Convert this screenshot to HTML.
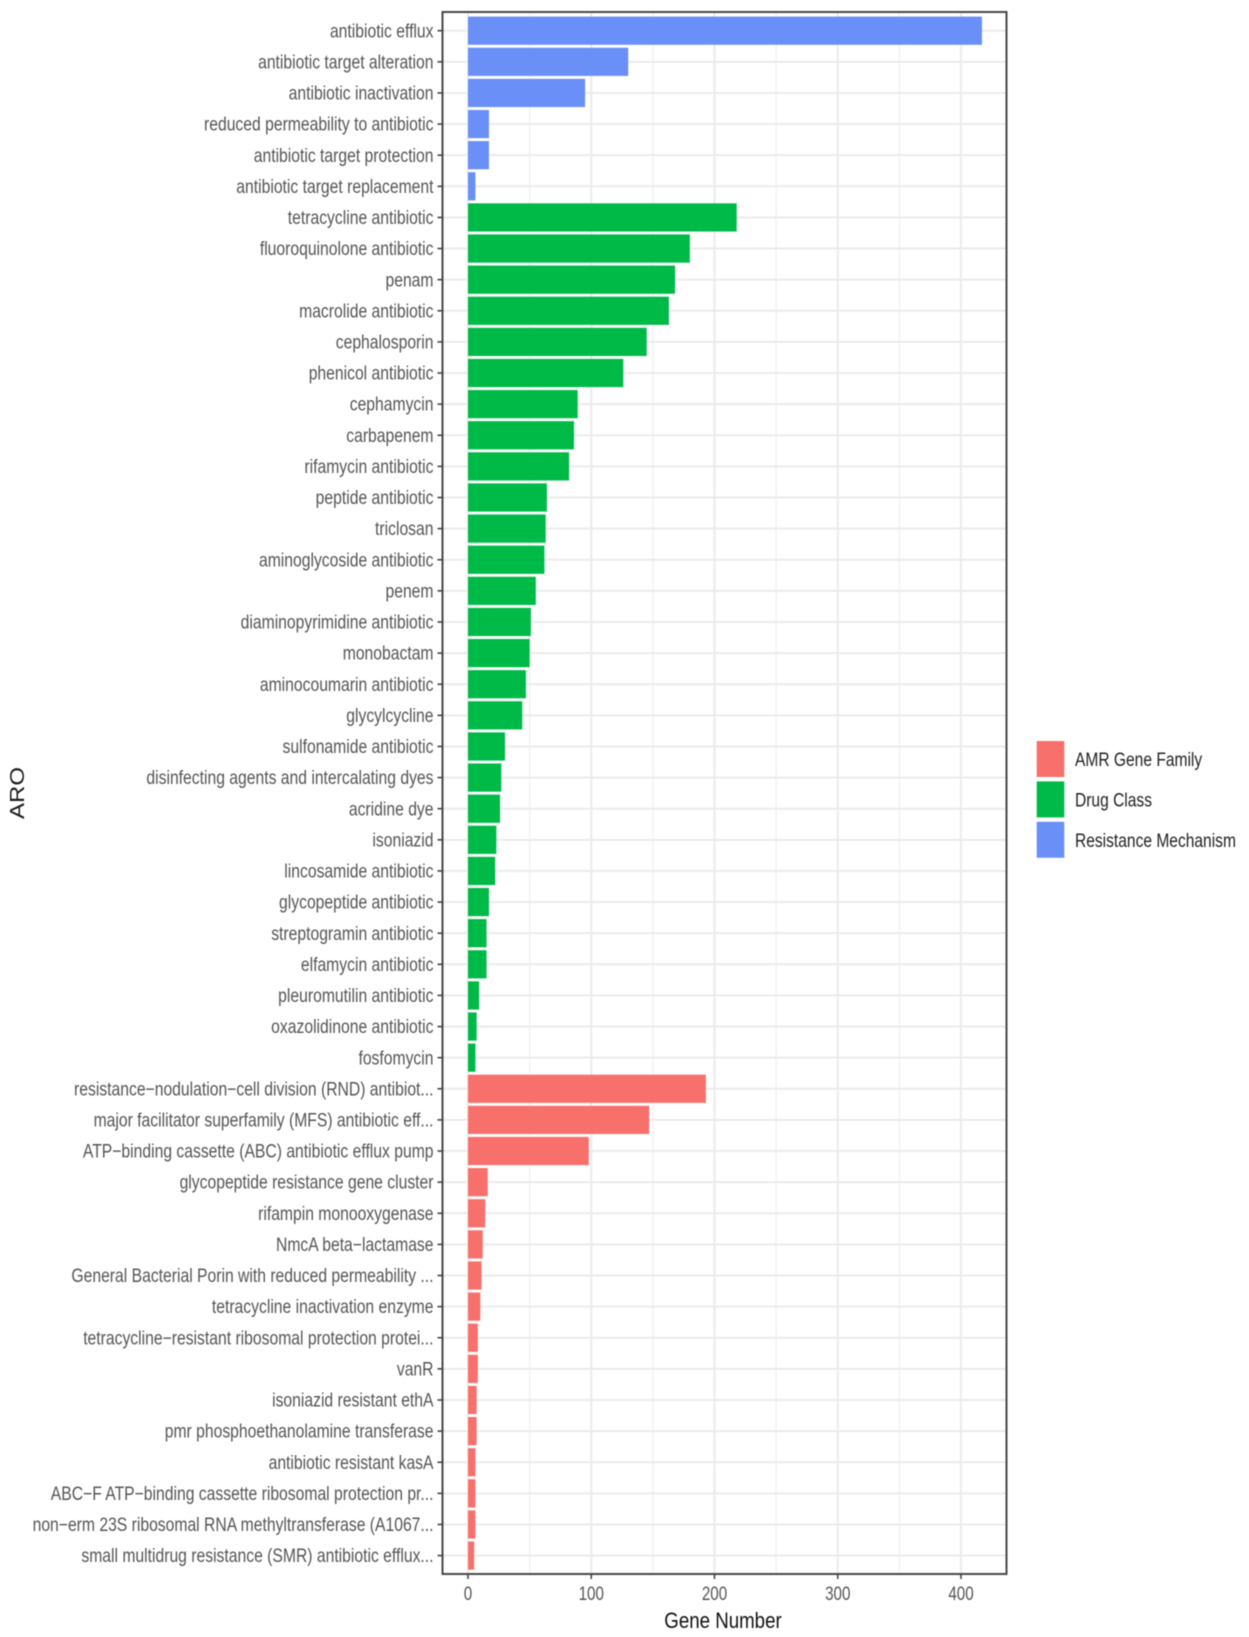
<!DOCTYPE html>
<html lang="en">
<head>
<meta charset="utf-8">
<title>ARO Gene Number Chart</title>
<style>
html,body{margin:0;padding:0;background:#fff;}
#chart{display:block;width:1249px;height:1637px;filter:blur(0.45px);}
text{font-family:"Liberation Sans",sans-serif;}
</style>
</head>
<body>
<svg id="chart" xmlns="http://www.w3.org/2000/svg" width="1249" height="1637" viewBox="0 0 1249 1637">
  <rect x="0" y="0" width="1249" height="1637" fill="#ffffff"/>
  <g id="grid"></g>
  <g id="bars"></g>
  <rect x="442.5" y="12" width="564" height="1562" fill="none" stroke="#484848" stroke-width="2"/>
  <g id="y-axis"></g>
  <g id="x-axis"></g>
  <text transform="translate(723,1628) scale(.85,1)" text-anchor="middle" font-size="22" fill="#111">Gene Number</text>
  <text transform="translate(24,793) scale(.85,1) rotate(-90)" text-anchor="middle" font-size="24" fill="#1a1a1a">ARO</text>
  <g id="legend"></g>
</svg>
<script>
const categories = [
  "antibiotic efflux","antibiotic target alteration","antibiotic inactivation","reduced permeability to antibiotic","antibiotic target protection","antibiotic target replacement",
  "tetracycline antibiotic","fluoroquinolone antibiotic","penam","macrolide antibiotic","cephalosporin","phenicol antibiotic","cephamycin","carbapenem","rifamycin antibiotic","peptide antibiotic","triclosan","aminoglycoside antibiotic","penem","diaminopyrimidine antibiotic","monobactam","aminocoumarin antibiotic","glycylcycline","sulfonamide antibiotic","disinfecting agents and intercalating dyes","acridine dye","isoniazid","lincosamide antibiotic","glycopeptide antibiotic","streptogramin antibiotic","elfamycin antibiotic","pleuromutilin antibiotic","oxazolidinone antibiotic","fosfomycin",
  "resistance\u2212nodulation\u2212cell division (RND) antibiot...","major facilitator superfamily (MFS) antibiotic eff...","ATP\u2212binding cassette (ABC) antibiotic efflux pump","glycopeptide resistance gene cluster","rifampin monooxygenase","NmcA beta\u2212lactamase","General Bacterial Porin with reduced permeability ...","tetracycline inactivation enzyme","tetracycline\u2212resistant ribosomal protection protei...","vanR","isoniazid resistant ethA","pmr phosphoethanolamine transferase","antibiotic resistant kasA","ABC\u2212F ATP\u2212binding cassette ribosomal protection pr...","non\u2212erm 23S ribosomal RNA methyltransferase (A1067...","small multidrug resistance (SMR) antibiotic efflux..."
];
const geneCounts = [
  417,130,95,17,17,6,
  218,180,168,163,145,126,89,86,82,64,63,62,55,51,50,47,44,30,27,26,23,22,17,15,15,9,7,6,
  193,147,98,16,14,12,11,10,8,8,7,7,6,6,6,5
];
const categoryGroups = [
  "Resistance Mechanism","Resistance Mechanism","Resistance Mechanism","Resistance Mechanism","Resistance Mechanism","Resistance Mechanism",
  "Drug Class","Drug Class","Drug Class","Drug Class","Drug Class","Drug Class","Drug Class","Drug Class","Drug Class","Drug Class","Drug Class","Drug Class","Drug Class","Drug Class","Drug Class","Drug Class","Drug Class","Drug Class","Drug Class","Drug Class","Drug Class","Drug Class","Drug Class","Drug Class","Drug Class","Drug Class","Drug Class","Drug Class",
  "AMR Gene Family","AMR Gene Family","AMR Gene Family","AMR Gene Family","AMR Gene Family","AMR Gene Family","AMR Gene Family","AMR Gene Family","AMR Gene Family","AMR Gene Family","AMR Gene Family","AMR Gene Family","AMR Gene Family","AMR Gene Family","AMR Gene Family","AMR Gene Family"
];
const xMajorTicks = [0,100,200,300,400];
const xMinorTicks = [50,150,250,350];
const legendGroups = ["AMR Gene Family","Drug Class","Resistance Mechanism"];

const groupColor = {"AMR Gene Family":"#F8706B","Drug Class":"#00BA47","Resistance Mechanism":"#6A8FF7"};
const NS = "http://www.w3.org/2000/svg";
const PANEL = {left:442.5,right:1006.5,top:12,bottom:1574};
function xScale(v){return 468 + v*1.2325;}
function yScale(i){return 30.7 + i*31.12;}
const ROW_H = 28.2;
function make(tag,attrs,parent,txt){
  const el=document.createElementNS(NS,tag);
  for(const k in attrs){el.setAttribute(k,attrs[k]);}
  if(txt!==undefined){el.textContent=txt;}
  parent.appendChild(el);
  return el;
}
const grid=document.getElementById('grid');
const bars=document.getElementById('bars');
const yAxis=document.getElementById('y-axis');
const xAxis=document.getElementById('x-axis');
const legend=document.getElementById('legend');

xMinorTicks.forEach(function(t){
  const el=make('line',{x1:xScale(t),x2:xScale(t),y1:PANEL.top,y2:PANEL.bottom,stroke:'#f0f0f0','stroke-width':1.2},grid);
  
  
});
xMajorTicks.forEach(function(t){
  const el=make('line',{x1:xScale(t),x2:xScale(t),y1:PANEL.top,y2:PANEL.bottom,stroke:'#ebebeb','stroke-width':2},grid);
  
  
  const tick=make('line',{x1:xScale(t),x2:xScale(t),y1:PANEL.bottom,y2:PANEL.bottom+5,stroke:'#444','stroke-width':1.6},xAxis);
  
  
  const lab=make('text',{transform:'translate('+xScale(t)+',1600) scale(.8,1)','text-anchor':'middle','font-size':19,fill:'#555'},xAxis,String(t));
  
  
});
categories.forEach(function(c,i){
  const y=yScale(i);
  const gl=make('line',{x1:PANEL.left,x2:PANEL.right,y1:y,y2:y,stroke:'#ebebeb','stroke-width':2},grid);
  
  
  const bar=make('rect',{x:xScale(0),y:y-ROW_H/2,width:xScale(geneCounts[i])-xScale(0),height:ROW_H,fill:groupColor[categoryGroups[i]]},bars);
  
  
  const tick=make('line',{x1:PANEL.left-5,x2:PANEL.left,y1:y,y2:y,stroke:'#444','stroke-width':1.6},yAxis);
  
  
  const lab=make('text',{transform:'translate(433.5,'+(y+6.6)+') scale(.806,1)','text-anchor':'end','font-size':19.5,fill:'#555'},yAxis,c);
  
  
});
legendGroups.forEach(function(g,i){
  const top=741+i*40.4;
  const sw=make('rect',{x:1036.7,y:top,width:27.6,height:36,fill:groupColor[g]},legend);
  
  
  const lab=make('text',{transform:'translate(1075,'+(top+25)+') scale(.82,1)','font-size':19,fill:'#222'},legend,g);
  
  
});
</script>
</body>
</html>
